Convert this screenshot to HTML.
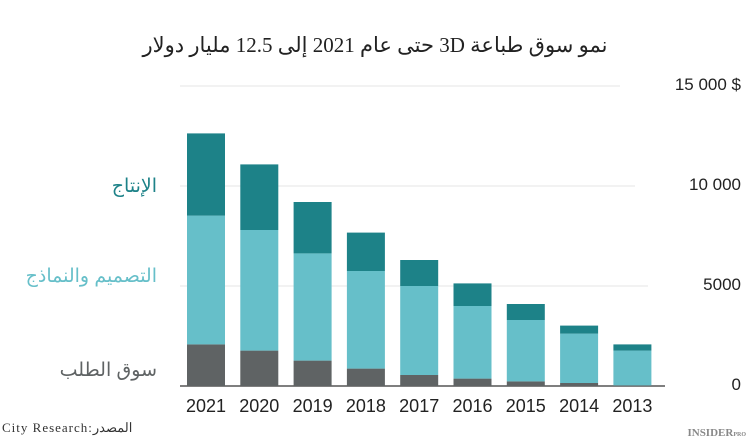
<!DOCTYPE html>
<html><head><meta charset="utf-8"><style>
html,body{margin:0;padding:0;background:#fff;width:750px;height:438px;overflow:hidden}
svg text{font-family:"Liberation Sans","DejaVu Sans",sans-serif}
</style></head><body>
<svg id="chart" width="750" height="438" viewBox="0 0 750 438" xmlns="http://www.w3.org/2000/svg">
<text x="375" y="52" text-anchor="middle" direction="rtl" unicode-bidi="embed" font-size="21" fill="#222" style="font-family:'Liberation Serif','DejaVu Serif',serif;direction:rtl;unicode-bidi:embed">نمو سوق طباعة 3D حتى عام 2021 إلى 12.5 مليار دولار</text>
<g id="grid"></g>
<g id="bars"></g>
<g id="xlabels"></g>
<g id="ylabels"></g>
<text x="157" y="192" text-anchor="end" font-size="19" fill="#1d8288">الإنتاج</text>
<text x="157" y="282" text-anchor="end" font-size="19" fill="#66bfc9">التصميم والنماذج</text>
<text x="157" y="376" text-anchor="end" font-size="19" fill="#5f6364">سوق الطلب</text>
<text x="2" y="432" font-size="13" fill="#333" letter-spacing="1" style="font-family:'Liberation Serif',serif">City Research:المصدر</text>
<text x="746" y="436" text-anchor="end" font-size="11" font-weight="bold" fill="#888" style="font-family:'Liberation Serif',serif">INSIDER<tspan font-size="6">PRO</tspan></text>
</svg>
<script>
const categories=["2021","2020","2019","2018","2017","2016","2015","2014","2013"];
const demand=[2080,1770,1270,870,550,370,230,150,30];
const design=[6440,6030,5360,4880,4450,3630,3070,2470,1740];
const production=[4110,3280,2570,1920,1300,1130,800,400,310];
const yTicks=[0,5000,10000,15000];
const yTickLabels=["0","5000","10 000","15 000 $"];
const NS="http://www.w3.org/2000/svg";
const y0=386, pxPer=100/5000;
const y=v=>y0-v*pxPer;
const x=i=>187+i*53.3;
const bw=38;
function mk(tag,attrs,parent){const e=document.createElementNS(NS,tag);for(const k in attrs)e.setAttribute(k,attrs[k]);parent.appendChild(e);return e;}
const grid=document.getElementById('grid'),bars=document.getElementById('bars'),xl=document.getElementById('xlabels'),yl=document.getElementById('ylabels');
yTicks.forEach((t,i)=>{
  if(t>0){const l=mk('line',{x1:180,x2:i==3?620:(i==2?635:648),y1:y(t),y2:y(t),stroke:'#e6e6e6','stroke-width':1},grid);
  
  }
  const tx=mk('text',{x:741,y:y(t)+4,'text-anchor':'end','font-size':17,fill:'#222'},yl);
  tx.textContent=yTickLabels[i];
  
  
});
const colors=['#5f6364','#66bfc9','#1d8288'];
categories.forEach((c,i)=>{
  let base=0;
  [demand[i],design[i],production[i]].forEach((v,k)=>{
    const r=mk('rect',{x:x(i),y:y(base+v),width:bw,height:v*pxPer,fill:colors[k]},bars);
    
    
    base+=v;
  });
  const t=mk('text',{x:x(i)+bw/2,y:412,'text-anchor':'middle','font-size':18,fill:'#222'},xl);
  t.textContent=c;
  
  
});
const base=mk('line',{x1:180,x2:665,y1:y0,y2:y0,stroke:'#555','stroke-width':1.5},grid);


</script>
</body></html>
